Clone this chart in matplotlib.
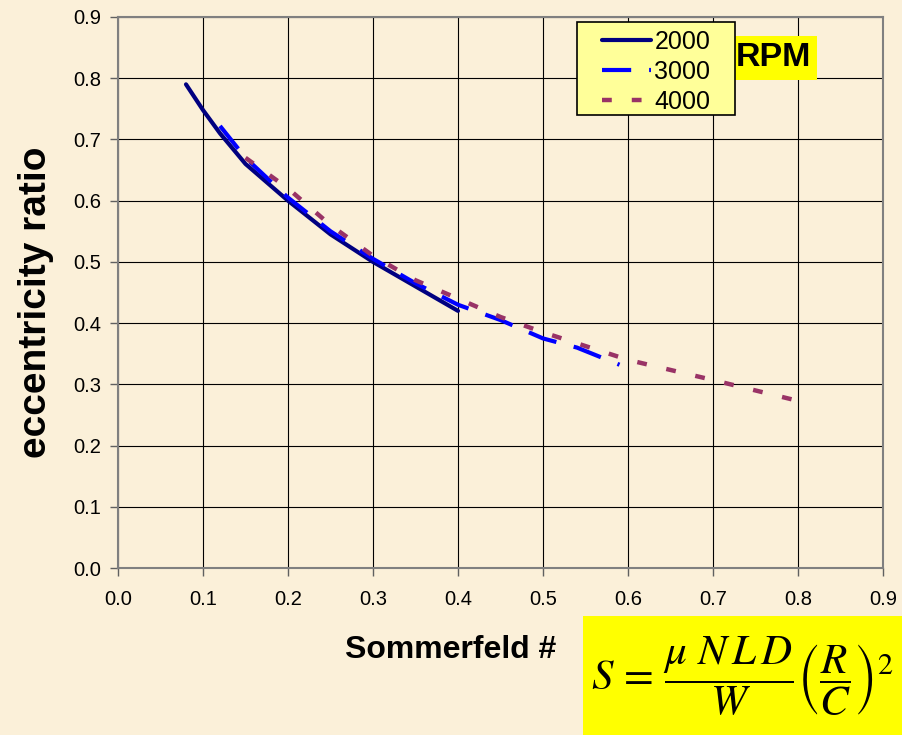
import matplotlib
matplotlib.use('Agg')
import matplotlib.pyplot as plt
from matplotlib.patches import Rectangle

plt.rcParams['font.family'] = ['Liberation Sans', 'DejaVu Sans']

# data
s_2000 = [0.08, 0.10, 0.12, 0.15, 0.20, 0.25, 0.30, 0.35, 0.40]
e_2000 = [0.79, 0.748, 0.71, 0.66, 0.60, 0.545, 0.50, 0.46, 0.42]
s_3000 = [0.12, 0.15, 0.20, 0.25, 0.30, 0.35, 0.40, 0.45, 0.50, 0.54, 0.59]
e_3000 = [0.722, 0.67, 0.605, 0.55, 0.505, 0.465, 0.43, 0.405, 0.375, 0.36, 0.332]
s_4000 = [0.15, 0.20, 0.25, 0.30, 0.35, 0.40, 0.45, 0.50, 0.60, 0.70, 0.80]
e_4000 = [0.67, 0.62, 0.56, 0.51, 0.47, 0.44, 0.41, 0.385, 0.34, 0.307, 0.273]
ticks = [0.0, 0.1, 0.2, 0.3, 0.4, 0.5, 0.6, 0.7, 0.8, 0.9]
tick_labels = ['%.1f' % t for t in ticks]

bg = '#FBF0D9'
fig = plt.figure(figsize=(9.03, 7.35), dpi=100, facecolor=bg)
ax = fig.add_axes([118 / 903, 1 - 568 / 735, (883 - 118) / 903, (568 - 17) / 735])
ax.set_facecolor(bg)

ax.plot(s_2000, e_2000, color='#000080', lw=3, solid_capstyle='round', label='2000', zorder=3)
ax.plot(s_3000, e_3000, color='#0000FF', lw=3, dashes=(7, 4.3), dash_capstyle='butt', label='3000', zorder=4)
ax.plot(s_4000, e_4000, color='#993366', lw=3.2, dashes=(2.2, 4.5), dash_capstyle='butt', label='4000', zorder=5)

ax.set_xlim(0, 0.9)
ax.set_ylim(0, 0.9)
ax.set_xticks(ticks)
ax.set_yticks(ticks)
ax.set_xticklabels(tick_labels)
ax.set_yticklabels(tick_labels)
ax.grid(True, color='black', lw=0.8)
ax.set_axisbelow(True)
for sp in ax.spines.values():
    sp.set_color('#808080')
    sp.set_linewidth(1.5)
ax.tick_params(axis='both', direction='out', length=6, width=1, color='#606060', labelsize=14.5)
ax.tick_params(axis='x', pad=10)
ax.tick_params(axis='y', pad=6)

# RPM tag sits under the legend box
fig.text(773 / 903, 1 - 58 / 735, 'RPM', fontsize=24.5, fontweight='bold', ha='center', va='center',
         zorder=4, bbox=dict(boxstyle='square,pad=0.2', facecolor='#FFFF00', edgecolor='none'))

# legend box drawn by hand, legend itself without frame
fig.patches.append(Rectangle((577 / 903, 1 - 115 / 735), (735 - 577) / 903, (115 - 22) / 735,
                             transform=fig.transFigure, facecolor='#FFFF99', edgecolor='black',
                             lw=1.2, zorder=5))
handles, labels = ax.get_legend_handles_labels()
leg = fig.legend(handles, labels, loc='upper left', bbox_to_anchor=(602 / 903, 1 - 30 / 735),
                 fontsize=18, handlelength=1.95, labelspacing=0.24, borderpad=0, borderaxespad=0,
                 handletextpad=0.15, frameon=False)
leg.set_zorder(6)

fig.text(36 / 903, 1 - 302 / 735, 'eccentricity ratio', fontsize=28, fontweight='bold',
         rotation=90, ha='center', va='center')
fig.text(451 / 903, 1 - 650 / 735, 'Sommerfeld #', fontsize=23, fontweight='bold', ha='center', va='center')

# formula box
fig.patches.append(Rectangle((583 / 903, 0), 1 - 583 / 903, (735 - 616) / 735, transform=fig.transFigure,
                             facecolor='#FFFF00', edgecolor='none', zorder=0))
fig.text(742 / 903, 1 - 676 / 735, r'$S\,=\,\dfrac{\mu\ N\,L\,D}{W}\left(\dfrac{R}{C}\right)^{2}$',
         fontsize=31, math_fontfamily='stix', ha='center', va='center')

fig.savefig('out.png', dpi=100, facecolor=bg)
